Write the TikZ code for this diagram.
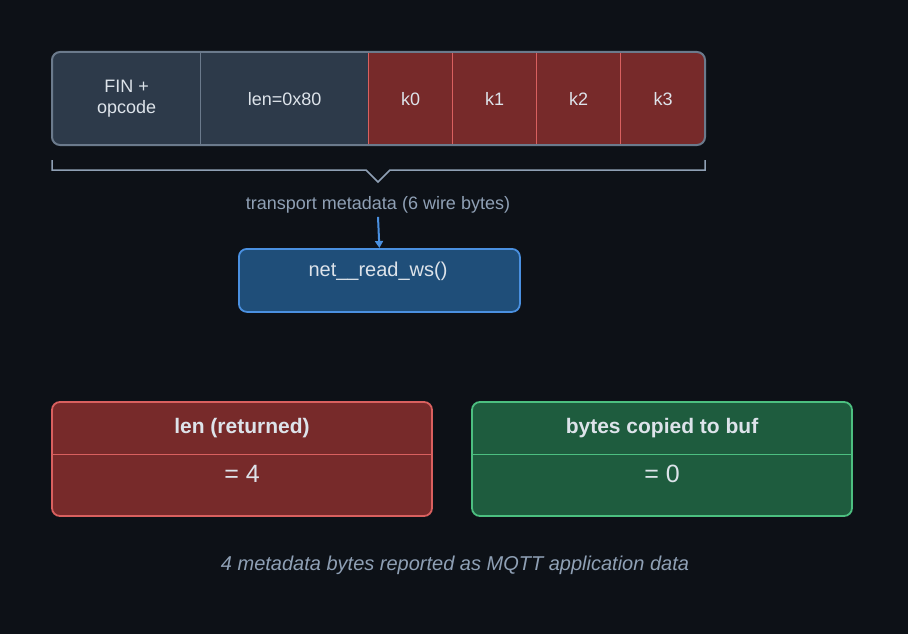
\documentclass[tikz,border=0pt]{standalone}
\usepackage{fontspec}
\setmainfont{Liberation Sans}
\usetikzlibrary{arrows.meta}
\definecolor{bg}{HTML}{0D1117}
\definecolor{slate}{HTML}{2D3A4A}
\definecolor{slateb}{HTML}{6B7A8C}
\definecolor{redf}{HTML}{772A2A}
\definecolor{redb}{HTML}{D9605F}
\definecolor{grnf}{HTML}{1E5C3E}
\definecolor{grnb}{HTML}{4CBF80}
\definecolor{bluef}{HTML}{1F4E79}
\definecolor{blueb}{HTML}{4A90E0}
\definecolor{muted}{HTML}{8FA0B5}
\definecolor{txt}{HTML}{DDE3EA}
\tikzset{
 cell/.style={draw=slateb,line width=1.2pt,minimum height=93pt,inner sep=0pt,text=txt,font=\fontsize{18}{21}\selectfont,align=center,anchor=north west},
 res/.style={line width=1.8pt,rounded corners=8pt},
}
\begin{document}
\begin{tikzpicture}[x=1pt,y=-1pt]
\fill[bg] (0,0) rectangle (908,634);
% bar
\begin{scope}
\clip[rounded corners=8pt] (52,52) rectangle (705,145);
\node[cell,fill=slate,minimum width=148pt] (fin) at (52,52) {FIN +\\opcode};
\node[cell,fill=slate,minimum width=168pt] (len) at (200,52) {len=0x80};
\node[cell,fill=redf,draw=redb,minimum width=84pt] (k0) at (368,52) {k0};
\node[cell,fill=redf,draw=redb,minimum width=84pt] (k1) at (452,52) {k1};
\node[cell,fill=redf,draw=redb,minimum width=84pt] (k2) at (536,52) {k2};
\node[cell,fill=redf,draw=redb,minimum width=85pt] (k3) at (620,52) {k3};
\end{scope}
\draw[slateb,line width=2pt,rounded corners=8pt] (52,52) rectangle (705,145);
% brace
\draw[muted,line width=1.5pt] (52,160) -- (52,170) -- (366,170) -- (378,182) -- (390,170) -- (705,170) -- (705,160);
\node[text=muted,font=\fontsize{18}{21}\selectfont] (tm) at (378,205) {transport metadata (6 wire bytes)};
\node[draw=blueb,fill=bluef,line width=1.8pt,rounded corners=8pt,minimum width=281pt,minimum height=63pt,text=txt,font=\fontsize{20}{24}\selectfont,anchor=north west] (rd) at (238,248) {};
\node[text=txt,font=\fontsize{20}{24}\selectfont] at (378,271) {net\_\_read\_ws()};
\draw[blueb,line width=2pt,-{Triangle[length=7pt,width=8pt]}] (tm.south) -- (rd.north);
% result boxes
\draw[res,draw=redb,fill=redf] (52,402) rectangle (432,516);
\draw[redb,line width=1pt] (52,454) -- (432,454);
\node[text=txt,font=\bfseries\fontsize{21}{25}\selectfont] (l1) at (242,428) {len (returned)};
\node[text=txt,font=\fontsize{25}{30}\selectfont] (l2) at (242,474) {= 4};
\draw[res,draw=grnb,fill=grnf] (472,402) rectangle (852,516);
\draw[grnb,line width=1pt] (472,454) -- (852,454);
\node[text=txt,font=\bfseries\fontsize{21}{25}\selectfont] (r1) at (662,428) {bytes copied to buf};
\node[text=txt,font=\fontsize{25}{30}\selectfont] (r2) at (662,474) {= 0};
\node[text=muted,font=\itshape\fontsize{20}{24}\selectfont] (cap) at (455,565) {4 metadata bytes reported as MQTT application data};
\end{tikzpicture}
\end{document}
